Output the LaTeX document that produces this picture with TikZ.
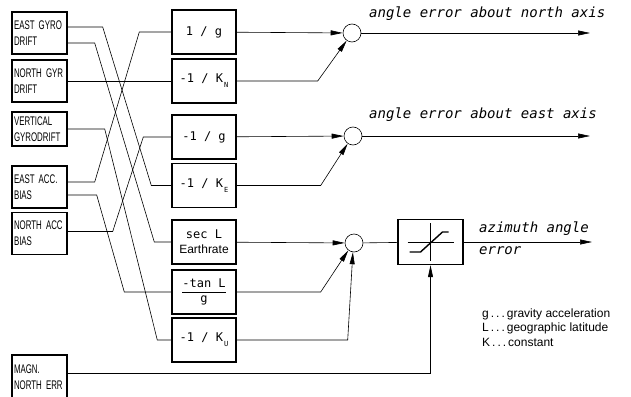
\documentclass[tikz,border=0pt]{standalone}
\usepackage{fontspec}
\setmainfont{Liberation Sans}
\newfontfamily\boxfont[FakeStretch=0.63]{Liberation Sans}
\newfontfamily\gainfont{DejaVu Sans Mono}
\usepackage{tikz}
\usetikzlibrary{arrows.meta}

\begin{document}
\begin{tikzpicture}[x=1pt, y=-1pt,
      src/.style={draw, line width=1.4pt, minimum width=55pt, minimum height=42pt,
                  text width=51pt, align=left, inner sep=2pt,
                  font=\boxfont\fontsize{12.5}{16}\selectfont},
      gain/.style={draw, line width=1.4pt, minimum width=64pt, minimum height=44pt,
                  inner sep=2pt, font=\gainfont\fontsize{12}{15}\selectfont},
      sumj/.style={draw, circle, fill=white, minimum size=18pt, inner sep=0pt, line width=0.6pt},
      wire/.style={line width=0.6pt},
      sig/.style={line width=0.6pt, -{Triangle[length=12pt,width=5pt]}},
      lbl/.style={font=\gainfont\itshape\fontsize{14}{16}\selectfont, inner sep=0pt, anchor=west},
      leg/.style={font=\fontsize{12}{14}\selectfont, inner sep=0pt, anchor=west}
  ]
    \useasboundingbox (0,0) rectangle (631,396);
    \node[src] (egd) at (39.5,33) {EAST GYRO\\DRIFT};
    \node[src] (ngd) at (39.5,81) {NORTH GYR\\DRIFT};
    \node[src, minimum height=34pt] (vgd) at (39.5,129) {VERTICAL\\GYRODRIFT};
    \node[src] (eab) at (39.5,187) {EAST ACC.\\BIAS};
    \node[src] (nab) at (39.5,233.5) {NORTH ACC\\BIAS};
    \node[src, minimum height=44pt] (mne) at (39.5,377) {MAGN.\\NORTH ERR};
    \node[gain] (g1)  at (204,32)    {1 / g};
    \node[gain] (kN)  at (204,81)    {-1 / K\raisebox{-5pt}{\scriptsize\,N}};
    \node[gain] (g2)  at (204,137)   {-1 / g};
    \node[gain] (kE)  at (204,185.5) {-1 / K\raisebox{-5pt}{\scriptsize\,E}};
    \node[gain, align=center] (sec) at (204,242) {sec L\\{\rmfamily\fontsize{12}{14}\selectfont Earthrate}};
    \node[gain] (tan) at (204,292)   {\begin{tabular}{@{}c@{}}-tan L\\\hline g\end{tabular}};
    \node[gain] (kU)  at (204,340)   {-1 / K\raisebox{-5pt}{\scriptsize\,U}};
    \node[sumj] (c1) at (352,33) {};
    \node[sumj] (c2) at (353,136) {};
    \node[sumj] (c3) at (354,243) {};
    \node[draw, line width=1.4pt, minimum width=65pt, minimum height=45pt] (lim) at (430.5,242) {};
    \draw[line width=0.5pt] ([xshift=-23pt]lim.center) -- ([xshift=23pt]lim.center);
    \draw[line width=0.5pt] ([yshift=19pt]lim.center) -- ([yshift=-19pt]lim.center);
    \draw[line width=1.4pt] ([shift={(-21pt,-10pt)}]lim.center) -- ([shift={(-10pt,-10pt)}]lim.center)
          -- ([shift={(12pt,10pt)}]lim.center) -- ([shift={(18pt,10pt)}]lim.center);
    \coordinate (o1) at (590,33);
    \coordinate (o2) at (590,136);
    \coordinate (o3) at (592,242);
    \node[lbl] (t1) at (369,14)  {angle error about north axis};
    \node[lbl] (t2) at (369,115) {angle error about east axis};
    \node[lbl] (t3) at (479,229) {azimuth angle};
    \node[lbl] (t4) at (479,251) {error};
    \node[leg] (k1) at (482,314) {g\,.\,.\,.\,gravity acceleration};
    \node[leg] (k2) at (482,328) {L\,.\,.\,.\,geographic latitude};
    \node[leg] (k3) at (482,342) {K\,.\,.\,.\,constant};
    \draw[wire] ([yshift=6pt]egd.east) -- ++(35,0) -- ([xshift=-20pt]kE.west) -- (kE.west);
    \draw[wire] ([yshift=-10pt]egd.east) -- ++(27,0) -- ([xshift=-17pt]sec.west) -- (sec.west);
    \draw[wire] (ngd.east) -- (kN.west);
    \draw[wire] (vgd.east) -- ++(37,0) -- ([xshift=-14pt]kU.west) -- (kU.west);
    \draw[wire] ([yshift=5pt]eab.east) -- ++(27,0) -- ([xshift=-32pt]g1.west) -- (g1.west);
    \draw[wire] ([yshift=-8pt]eab.east) -- ++(29,0) -- ([xshift=-47pt]tan.west) -- (tan.west);
    \draw[wire] ([yshift=2pt]nab.east) -- ++(45,0) -- ([xshift=-28pt]g2.west) -- (g2.west);
    \draw[sig] (g1) -- (c1);
    \draw[sig] (kN.east) -- ++(81,0) -- (c1.235);
    \draw[sig] (g2) -- (c2);
    \draw[sig] (kE.east) -- ++(84,0) -- (c2.235);
    \draw[sig] (sec) -- (c3);
    \draw[sig] (tan.east) -- ++(84,0) -- (c3.232);
    \draw[sig] (kU.east) -- ++(111,0) -- (c3.263);
    \draw[wire] (c3) -- (lim);
    \draw[sig] (c1) -- (o1);
    \draw[sig] (c2) -- (o2);
    \draw[sig] (lim) -- (o3);
    \draw[sig] ([yshift=4pt]mne.east) -| (lim.south);
  \end{tikzpicture}
\end{document}
